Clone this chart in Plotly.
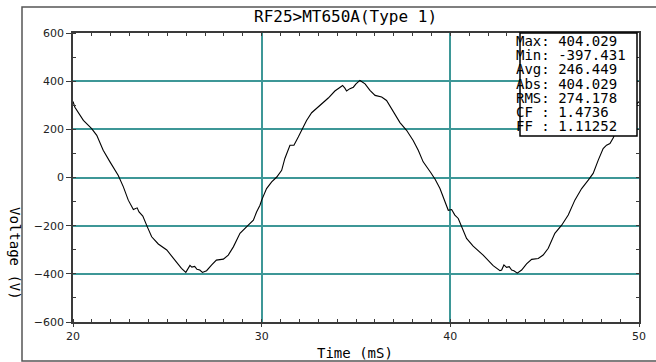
import plotly.graph_objects as go

# ---- data ----
time_ms = [20.0, 20.1, 20.55, 20.99, 21.26, 21.6, 21.96, 22.4, 22.67, 22.93, 23.2, 23.4, 23.5, 23.7,
           23.94, 24.17, 24.52, 24.97, 25.4, 25.75, 25.98, 26.1, 26.2, 26.3, 26.45, 26.57, 26.72, 26.86,
           27.08, 27.34, 27.6, 27.97, 28.23, 28.5, 28.85, 29.29, 29.56, 29.73, 29.91, 30.0, 30.26, 30.53,
           30.8, 31.06, 31.23, 31.5, 31.71, 31.94, 32.12, 32.38, 32.65, 33.09, 33.53, 33.88, 34.29,
           34.41, 34.5, 34.68, 34.86, 35.0, 35.21, 35.48, 35.74, 36.01, 36.36, 36.62, 36.97, 37.33,
           37.68, 38.03, 38.3, 38.56, 38.95, 39.2, 39.45, 39.71, 39.89, 40.07, 40.24, 40.42, 40.6,
           40.86, 41.21, 41.74, 42.27, 42.63, 42.72, 42.84, 42.98, 43.12, 43.25, 43.37, 43.55, 43.78,
           44.04, 44.31, 44.66, 44.92, 45.19, 45.54, 45.9, 46.25, 46.6, 46.96, 47.31, 47.57, 47.84,
           48.1, 48.28, 48.46, 48.63, 49.0, 49.5, 50.0]
voltage_v = [316, 292, 237, 203, 175, 113, 65, 8, -39, -94, -133, -126, -143, -160,
             -205, -246, -276, -301, -343, -377, -394, -377, -365, -372, -369, -381, -384, -394,
             -387, -364, -343, -339, -322, -288, -232, -198, -177, -143, -115, -94, -46, -18,
             2, 30, 79, 134, 134, 168, 196, 237, 269, 300, 330, 359, 382,
             371, 359, 369, 375, 389, 403, 389, 362, 341, 334, 320, 272, 228,
             196, 154, 113, 65, 22, -8, -46, -101, -136, -133, -156, -170, -205,
             -253, -285, -322, -366, -387, -384, -363, -373, -370, -384, -387, -397, -384,
             -359, -340, -336, -322, -294, -232, -198, -156, -94, -46, -11, 17, 72,
             120, 134, 141, 164, 230, 280, 315]

title_text = "RF25>MT650A(Type 1)"
x_title = "Time (mS)"
y_title = "Voltage (V)"
stat_names = ["Max:", "Min:", "Avg:", "Abs:", "RMS:", "CF :", "FF :"]
stat_values = ["404.029", "-397.431", "246.449", "404.029", "274.178", "1.4736", "1.11252"]

x_range = [20, 50]
y_range = [-600, 600]

MONO = "DejaVu Sans Mono"
GRID = "#3d9797"
AXIS = "#3a3a3a"

fig = go.Figure()
fig.add_trace(go.Scatter(x=time_ms, y=voltage_v, mode="lines",
                         line=dict(color="black", width=1.1), showlegend=False,
                         hoverinfo="skip"))
# invisible copy to anchor the mirrored tick axes (top/right)
fig.add_trace(go.Scatter(x=time_ms, y=voltage_v, mode="lines", xaxis="x2", yaxis="y2",
                         line=dict(color="rgba(0,0,0,0)", width=0), showlegend=False,
                         hoverinfo="skip"))

W, H = 656, 362
ml, mr, mt, mb = 73, 17, 33, 40
pw, ph = W - ml - mr, H - mt - mb


def px_x(x):
    return (x - ml) / pw


def px_y(y):
    return (H - mb - y) / ph


fig.update_layout(
    template="none",
    width=W, height=H,
    margin=dict(l=ml, r=mr, t=mt, b=mb, pad=0),
    paper_bgcolor="white", plot_bgcolor="white",
    showlegend=False,
    xaxis=dict(range=x_range, dtick=10, tick0=20, showgrid=True, gridcolor=GRID, gridwidth=1.6,
               zeroline=False, showline=True, linecolor=AXIS, linewidth=1.5, mirror=True,
               ticks="outside", ticklen=3, tickcolor=AXIS, tickwidth=1,
               minor=dict(dtick=1, ticks="inside", ticklen=3, tickcolor=AXIS, tickwidth=1,
                          showgrid=False),
               tickfont=dict(family="DejaVu Sans", size=11, color="#222")),
    yaxis=dict(range=y_range, dtick=200, showgrid=True, gridcolor=GRID, gridwidth=1.6,
               zeroline=False, showline=True, linecolor=AXIS, linewidth=1.5, mirror=True,
               ticks="outside", ticklen=5, tickcolor=AXIS, tickwidth=1,
               minor=dict(dtick=100, ticks="inside", ticklen=3, tickcolor=AXIS, tickwidth=1,
                          showgrid=False),
               tickfont=dict(family="DejaVu Sans", size=11, color="#222")),
    xaxis2=dict(range=x_range, overlaying="x", side="top", anchor="y", dtick=1,
                showgrid=False, zeroline=False, showline=False, showticklabels=False,
                ticks="inside", ticklen=3, tickcolor=AXIS, tickwidth=1),
    yaxis2=dict(range=y_range, overlaying="y", side="right", anchor="x", dtick=100,
                showgrid=False, zeroline=False, showline=False, showticklabels=False,
                ticks="inside", ticklen=3, tickcolor=AXIS, tickwidth=1),
)

# outer frame
fig.add_shape(type="rect", xref="paper", yref="paper",
              x0=px_x(22), x1=px_x(660), y0=px_y(361), y1=px_y(7),
              line=dict(color="#555555", width=1.5), fillcolor="rgba(0,0,0,0)", layer="below")

# stats box
fig.add_shape(type="rect", xref="paper", yref="paper",
              x0=px_x(520), x1=px_x(637), y0=px_y(136), y1=px_y(33),
              line=dict(color="black", width=1.5), fillcolor="white", layer="above")
for i, (n, v) in enumerate(zip(stat_names, stat_values)):
    fig.add_annotation(xref="paper", yref="paper", x=px_x(514), y=px_y(40.7 + 14.3 * i),
                       xanchor="left", yanchor="middle", showarrow=False,
                       text=f"{n} {v}".replace(" ", "&nbsp;"),
                       font=dict(family=MONO, size=14, color="black"))

# title and axis titles
fig.add_annotation(xref="paper", yref="paper", x=px_x(345), y=px_y(16.5),
                   xanchor="center", yanchor="middle", showarrow=False, text=title_text,
                   font=dict(family=MONO, size=16, color="black"))
fig.add_annotation(xref="paper", yref="paper", x=px_x(355), y=px_y(353),
                   xanchor="center", yanchor="middle", showarrow=False, text=x_title,
                   font=dict(family=MONO, size=14, color="black"))
fig.add_annotation(xref="paper", yref="paper", x=px_x(15.5), y=px_y(253.5),
                   xanchor="center", yanchor="middle", showarrow=False, text=y_title,
                   textangle=90, font=dict(family=MONO, size=14, color="black"))

fig.write_html("out.html")
